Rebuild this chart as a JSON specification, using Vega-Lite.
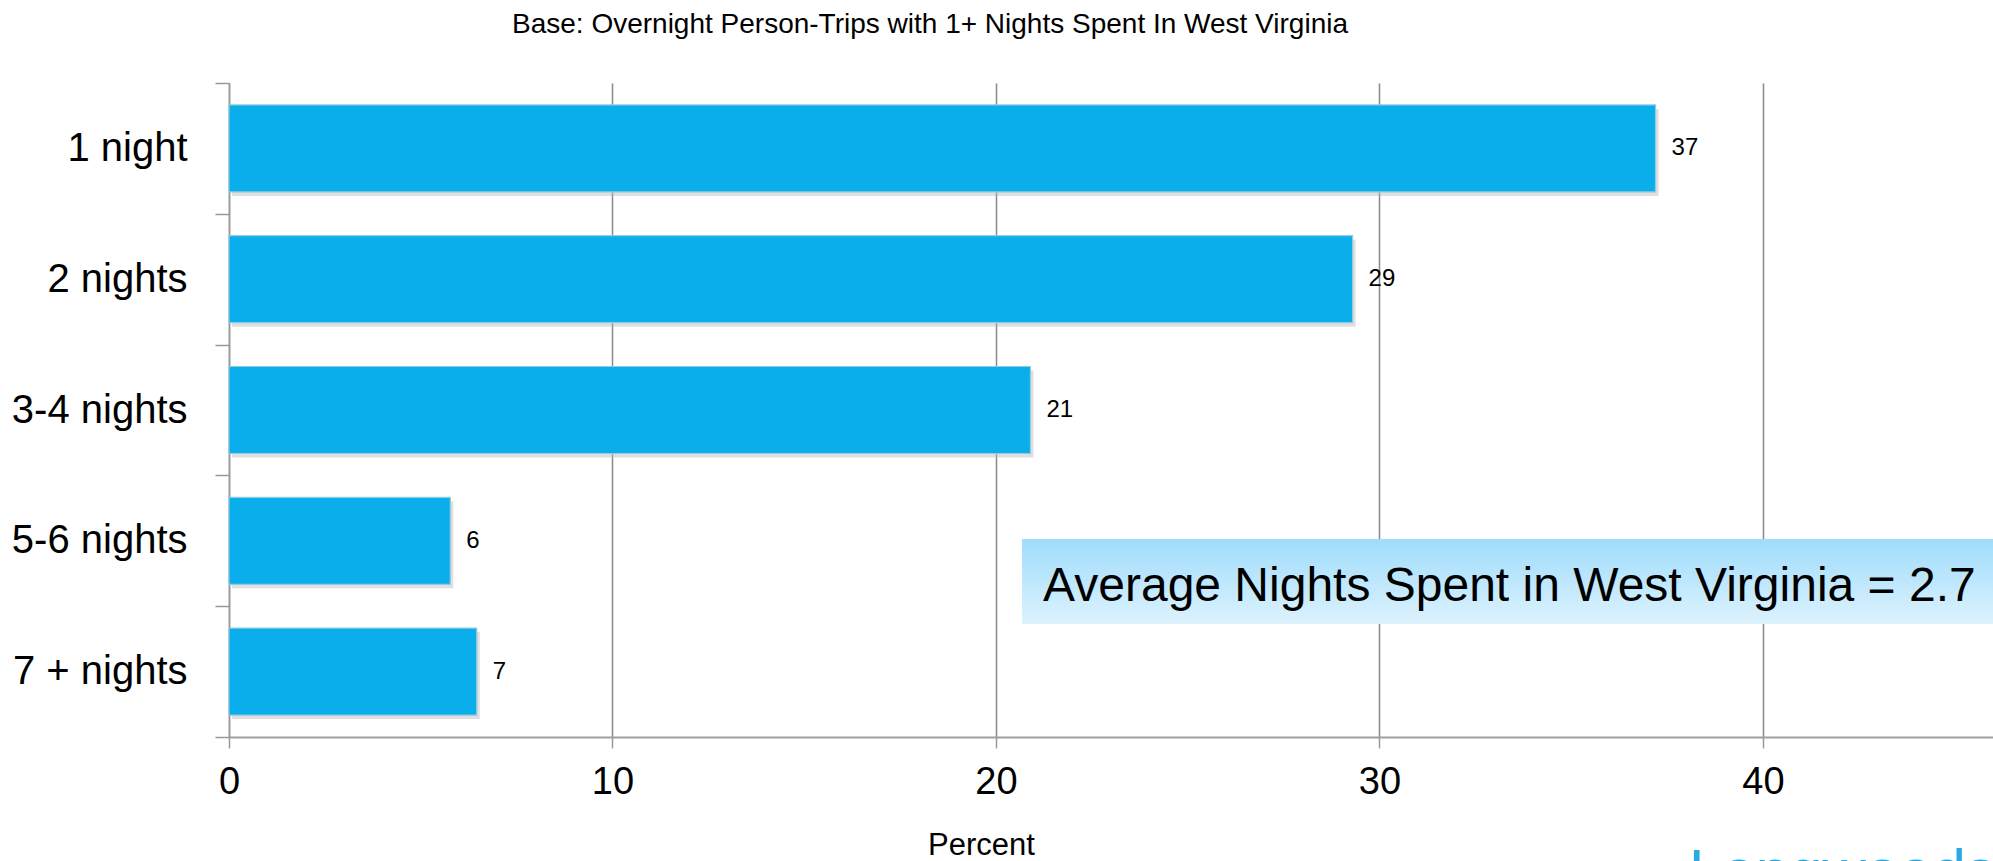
{
  "$schema": "https://vega.github.io/schema/vega-lite/v6.json",
  "width": 1764,
  "height": 654,
  "autosize": {"type": "none"},
  "padding": {"left": 229, "top": 83, "right": 0, "bottom": 124},
  "background": "white",
  "config": {
    "view": {"stroke": null},
    "font": "Liberation Sans",
    "axis": {"labelFont": "Liberation Sans", "titleFont": "Liberation Sans", "labelColor": "#000", "titleColor": "#000", "titleFontWeight": "normal"}
  },
  "title": {
    "text": "Base: Overnight Person-Trips with 1+ Nights Spent In West Virginia",
    "fontSize": 28,
    "font": "Liberation Sans",
    "fontWeight": "normal",
    "color": "#000",
    "anchor": "middle",
    "dx": -181,
    "offset": 24
  },
  "datasets": {
    "bars": [
      {"nights": "1 night", "pct": 37.2, "label": "37"},
      {"nights": "2 nights", "pct": 29.3, "label": "29"},
      {"nights": "3-4 nights", "pct": 20.9, "label": "21"},
      {"nights": "5-6 nights", "pct": 5.77, "label": "6"},
      {"nights": "7 + nights", "pct": 6.46, "label": "7"}
    ],
    "annot": [
      {"x": 20.68, "x2": 46, "y": 3.486, "y2": 4.136, "tx": 21.23, "ty": 3.96, "text": "Average Nights Spent in West Virginia = 2.7"}
    ],
    "logo": [
      {"x": 38.07, "y": 6.18, "text": "Longwoods"}
    ]
  },
  "layer": [
    {
      "data": {"name": "bars"},
      "encoding": {
        "y": {
          "field": "nights",
          "type": "nominal",
          "sort": ["1 night", "2 nights", "3-4 nights", "5-6 nights", "7 + nights"],
          "scale": {"paddingInner": 0, "paddingOuter": 0},
          "axis": {
            "title": null,
            "labelFontSize": 40,
            "labelLimit": 400,
            "labelPadding": 28,
            "tickSize": 14,
            "tickBand": "extent",
            "tickColor": "#999",
            "tickWidth": 1.5,
            "domainColor": "#999",
            "domainWidth": 1.5,
            "grid": false
          }
        },
        "x": {
          "field": "pct",
          "type": "quantitative",
          "scale": {"domain": [0, 46], "nice": false},
          "axis": {
            "title": "Percent",
            "titleFontSize": 31,
            "titleX": 752,
            "titleY": 117,
            "titleBaseline": "alphabetic",
            "values": [0, 10, 20, 30, 40],
            "labelFlush": false,
            "labelFontSize": 38,
            "labelPadding": 15,
            "tickSize": 11,
            "tickColor": "#999",
            "tickWidth": 1.5,
            "domainColor": "#a0a0a0",
            "domainWidth": 2,
            "grid": true,
            "gridColor": "#8a8a8a",
            "gridWidth": 1.5
          }
        }
      },
      "layer": [
        {"mark": {"type": "bar", "height": {"band": 0.665}, "color": "#b8b8b8", "opacity": 0.45, "xOffset": 3, "yOffset": 4}},
        {"mark": {"type": "bar", "height": {"band": 0.665}, "color": "#09aeea", "stroke": "#8fcbe2", "strokeWidth": 1.2}},
        {"mark": {"type": "text", "align": "left", "baseline": "middle", "dx": 16, "fontSize": 24, "color": "#000"},
         "encoding": {"text": {"field": "label"}}}
      ]
    },
    {
      "data": {"name": "annot"},
      "encoding": {
        "y": {"field": "y", "type": "quantitative", "scale": {"domain": [0, 5], "reverse": true, "nice": false, "zero": false}, "axis": null},
        "x": {"field": "x", "type": "quantitative"}
      },
      "layer": [
        {"mark": {"type": "rect", "fill": {"gradient": "linear", "x1": 0, "y1": 0, "x2": 0, "y2": 1, "stops": [{"offset": 0, "color": "#9fdcfc"}, {"offset": 1, "color": "#ddf2fd"}]}},
         "encoding": {"x2": {"field": "x2"}, "y2": {"field": "y2"}}},
        {"mark": {"type": "text", "align": "left", "baseline": "alphabetic", "fontSize": 48, "color": "#000"},
         "encoding": {"x": {"field": "tx", "type": "quantitative"}, "y": {"field": "ty", "type": "quantitative"}, "text": {"field": "text"}}}
      ]
    },
    {
      "data": {"name": "logo"},
      "mark": {"type": "text", "align": "left", "baseline": "alphabetic", "fontSize": 60, "color": "#29abe2", "font": "Liberation Sans"},
      "encoding": {
        "x": {"field": "x", "type": "quantitative"},
        "y": {"field": "y", "type": "quantitative", "scale": {"domain": [0, 5], "reverse": true, "nice": false, "zero": false}, "axis": null},
        "text": {"field": "text"}
      }
    }
  ],
  "resolve": {"scale": {"y": "independent"}}
}
